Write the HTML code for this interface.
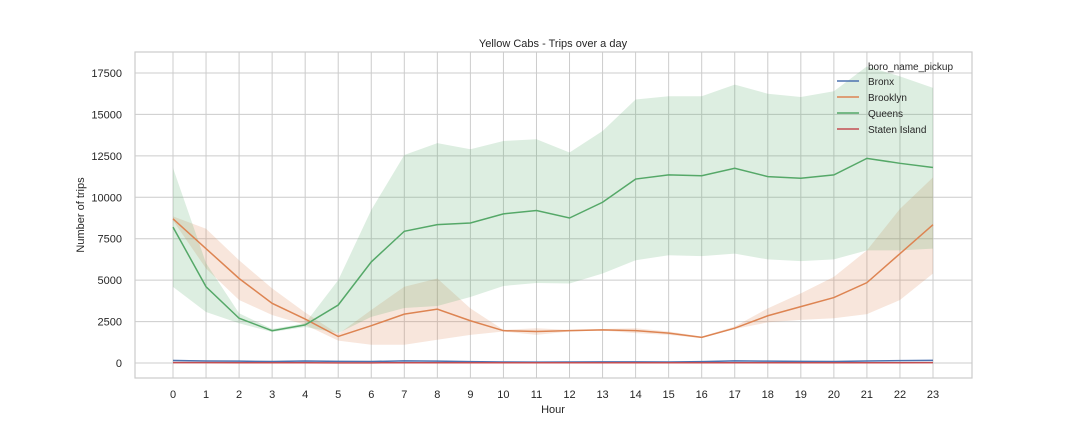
<!DOCTYPE html>
<html><head><meta charset="utf-8">
<style>
html,body{margin:0;padding:0;background:#fff;}
svg{display:block;font-family:"Liberation Sans","DejaVu Sans",sans-serif;}
</style></head>
<body>
<svg id="chart" width="1080" height="432" xmlns="http://www.w3.org/2000/svg">
<rect width="1080" height="432" fill="#fff"/>
<text x="553" y="47" text-anchor="middle" font-size="11" fill="#262626">Yellow Cabs - Trips over a day</text>
<g id="grid"></g>
<g id="bands"></g>
<g id="lines"></g>
<rect x="135" y="52" width="837" height="326" fill="none" stroke="#cccccc" stroke-width="1.2"/>
<g id="ticks" font-size="11" fill="#262626"></g>
<text x="553" y="413" text-anchor="middle" font-size="11" fill="#262626">Hour</text>
<text transform="translate(84,215) rotate(-90)" text-anchor="middle" font-size="11" fill="#262626">Number of trips</text>
<g id="legend" font-size="10" fill="#262626"></g>
</svg>
<script>
const hours = [0,1,2,3,4,5,6,7,8,9,10,11,12,13,14,15,16,17,18,19,20,21,22,23];
const yTicks = [0,2500,5000,7500,10000,12500,15000,17500];
const seriesNames = ["Bronx","Brooklyn","Queens","Staten Island"];
const seriesColors = ["#4c72b0","#dd8452","#55a868","#c44e52"];
const bronx = [150,120,110,90,120,100,90,130,110,80,60,50,60,70,70,60,80,130,110,100,90,120,140,160];
const bronxLo = [100,90,80,70,90,80,70,100,80,60,45,40,45,55,55,45,60,100,80,75,70,90,105,120];
const bronxHi = [200,150,140,110,150,120,110,160,140,100,75,60,75,85,85,75,100,160,140,125,110,150,175,200];
const brooklyn = [8700,6900,5100,3600,2650,1600,2250,2950,3250,2550,1950,1900,1950,2000,1950,1800,1550,2100,2850,3400,3950,4850,6600,8350];
const brooklynLo = [8600,5700,3800,2900,2300,1350,1100,1100,1400,1700,1900,1700,1900,1950,1800,1700,1500,2050,2450,2600,2700,2950,3800,5400];
const brooklynHi = [8850,8100,6200,4500,3050,1750,3200,4600,5100,3300,2000,2100,2000,2050,2100,1900,1600,2200,3300,4200,5200,6800,9300,11200];
const queens = [8200,4600,2700,1950,2300,3500,6100,7950,8350,8450,9000,9200,8750,9700,11100,11350,11300,11750,11250,11150,11350,12350,12050,11800];
const queensLo = [4590,3080,2400,1870,2170,1800,2780,3320,3440,3980,4650,4830,4800,5400,6200,6500,6450,6600,6250,6150,6250,6800,6800,6900];
const queensHi = [11770,6030,3000,2050,2400,5000,9230,12550,13270,12900,13400,13500,12700,14000,15900,16100,16100,16800,16250,16050,16400,17900,17300,16600];
const staten = [20,20,15,15,15,10,10,15,15,15,15,15,15,15,15,15,15,15,15,15,15,15,15,20];

const NS="http://www.w3.org/2000/svg";
function xs(h){return 173+h*(933-173)/23;}
function ys(v){return 363-v*(363-73)/17500;}
function mk(tag,attrs,parent){const e=document.createElementNS(NS,tag);for(const k in attrs)e.setAttribute(k,attrs[k]);parent.appendChild(e);return e;}
const grid=document.getElementById('grid'),ticks=document.getElementById('ticks');
hours.forEach(h=>{
  const l=mk('line',{x1:xs(h),x2:xs(h),y1:52,y2:378,stroke:'#cccccc','stroke-width':1},grid);
  
  
  const t=mk('text',{x:xs(h),y:398,'text-anchor':'middle'},ticks);t.textContent=h;
  
  
});
yTicks.forEach(v=>{
  const l=mk('line',{x1:135,x2:972,y1:ys(v),y2:ys(v),stroke:'#cccccc','stroke-width':1},grid);
  
  
  const t=mk('text',{x:122,y:ys(v)+4,'text-anchor':'end'},ticks);t.textContent=v;
  
  
});
const data=[[bronx,bronxLo,bronxHi],[brooklyn,brooklynLo,brooklynHi],[queens,queensLo,queensHi],[staten,staten,staten]];
const bands=document.getElementById('bands'),lines=document.getElementById('lines');
data.forEach((d,i)=>{
  const [m,lo,hi]=d;
  let p=hours.map(h=>xs(h)+','+ys(hi[h])).join(' ')+' '+hours.slice().reverse().map(h=>xs(h)+','+ys(lo[h])).join(' ');
  const b=mk('polygon',{points:p,fill:seriesColors[i],'fill-opacity':0.2},bands);
  
  
});
data.forEach((d,i)=>{
  const m=d[0];
  const l=mk('polyline',{points:hours.map(h=>xs(h)+','+ys(m[h])).join(' '),fill:'none',stroke:seriesColors[i],'stroke-width':1.5},lines);
  
  
});
const lg=document.getElementById('legend');
const lt=mk('text',{x:868,y:70},lg);lt.textContent='boro_name_pickup';


seriesNames.forEach((n,i)=>{
  const y=81+i*16;
  const l=mk('line',{x1:837,x2:859,y1:y,y2:y,stroke:seriesColors[i],'stroke-width':1.5},lg);
  
  
  const t=mk('text',{x:868,y:y+4},lg);t.textContent=n;
  
  
});
</script>
</body></html>
